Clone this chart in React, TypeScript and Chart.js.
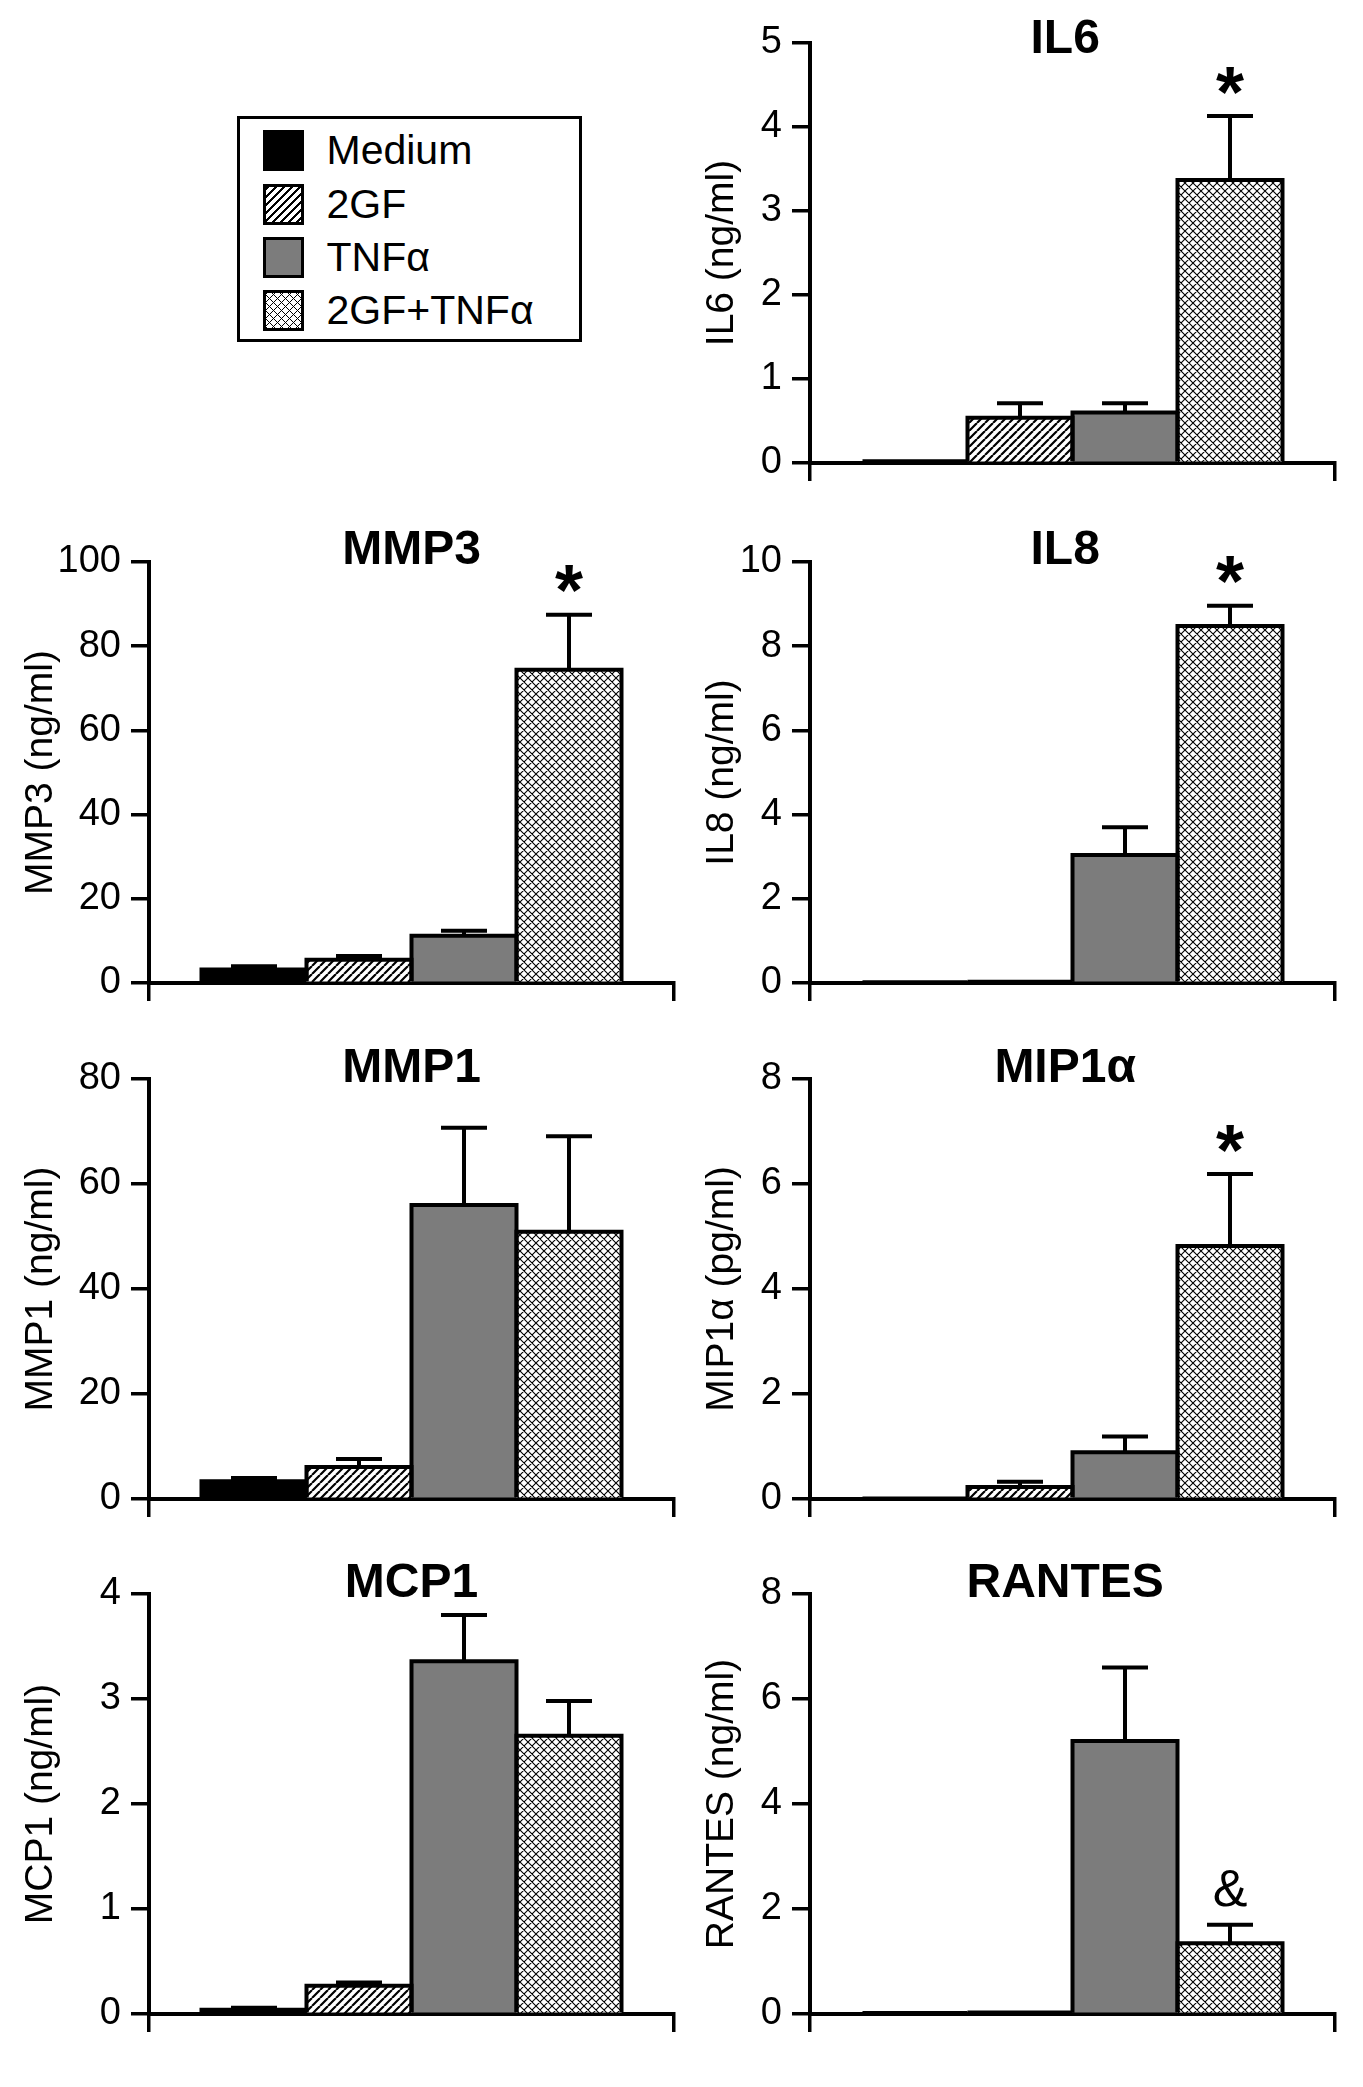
import React, { useEffect, useRef } from 'react';
import { Chart, registerables } from 'chart.js';

Chart.register(...registerables);

const FONT = "'Liberation Sans', Arial, Helvetica, sans-serif";

// treatment groups, drawn at x = 1..4 on a 0..5 axis
const groups = ['Medium', '2GF', 'TNFα', '2GF+TNFα'];
const groupX = [1, 2, 3, 4];

// means and upper SEM
const il6Mean = [0.02, 0.54, 0.6, 3.37];
const il6Sem = [0, 0.17, 0.11, 0.76];
const mmp3Mean = [3.2, 5.5, 11.2, 74.4];
const mmp3Sem = [0.8, 0.9, 1.2, 13.1];
const il8Mean = [0.02, 0.03, 3.04, 8.48];
const il8Sem = [0, 0, 0.66, 0.48];
const mmp1Mean = [3.4, 6.1, 56, 50.9];
const mmp1Sem = [0.6, 1.5, 14.7, 18.2];
const mip1aMean = [0.01, 0.23, 0.89, 4.82];
const mip1aSem = [0, 0.1, 0.3, 1.37];
const mcp1Mean = [0.04, 0.27, 3.36, 2.65];
const mcp1Sem = [0.02, 0.03, 0.44, 0.33];
const rantesMean = [0.02, 0.03, 5.2, 1.35];
const rantesSem = [0, 0, 1.4, 0.35];

// significance marks per group ('' = none)
const il6Marks = ['', '', '', '*'];
const mmp3Marks = ['', '', '', '*'];
const il8Marks = ['', '', '', '*'];
const noMarks = ['', '', '', ''];
const mip1aMarks = ['', '', '', '*'];
const rantesMarks = ['', '', '', '&'];

function tile(size: number, lw: number, cross: boolean) {
    const c = document.createElement('canvas');
    c.width = size;
    c.height = size;
    const g = c.getContext('2d')!;
    g.fillStyle = '#fff';
    g.fillRect(0, 0, size, size);
    g.strokeStyle = '#000';
    g.lineWidth = lw;
    g.beginPath();
    for (const o of [-size, 0, size]) {
        g.moveTo(o, size);
        g.lineTo(o + size, 0);
        if (cross) {
            g.moveTo(o, 0);
            g.lineTo(o + size, size);
        }
    }
    g.stroke();
    return g.createPattern(c, 'repeat')!;
}

function makeFills() {
    return ['#000', tile(8, 2.2, false), '#7c7c7c', tile(8, 1.1, true)];
}

interface PanelProps {
    title: string;
    axisTitle: string;
    mean: number[];
    sem: number[];
    marks: string[];
    max: number;
    step: number;
    col: number;
    row: number;
}

const rowTop = [43, 562, 1079, 1594];
const rowBottom = [463, 983, 1499, 2014];
const titleDy = [-3, -11, -10, -10];
const colLeft = [0, 681];
const colWidth = [681, 682];
const axisWidth = [149, 129];
const padRight = [7, 28];
const titleAt = [2.5, 2.43];
const PAD_TOP = 60;
const X_H = 40;

const Panel: React.FC<PanelProps> = (p) => {
    const ref = useRef<HTMLCanvasElement | null>(null);
    const w = colWidth[p.col];
    const h = rowBottom[p.row] - rowTop[p.row] + PAD_TOP + X_H;

    useEffect(() => {
        if (!ref.current) return;
        const fills = makeFills();

        const overlay = {
            id: 'overlay',
            afterDatasetsDraw(chart: any) {
                const ctx = chart.ctx as CanvasRenderingContext2D;
                const xs = chart.scales.x;
                const ys = chart.scales.y;
                const meta = chart.getDatasetMeta(0);
                ctx.save();
                ctx.strokeStyle = '#000';
                ctx.fillStyle = '#000';
                ctx.lineWidth = 4;
                ctx.lineJoin = 'miter';
                ctx.lineCap = 'butt';
                meta.data.forEach((bar: any, i: number) => {
                    const half = bar.width / 2;
                    // outline
                    ctx.beginPath();
                    ctx.moveTo(bar.x - half, bar.base);
                    ctx.lineTo(bar.x - half, bar.y);
                    ctx.lineTo(bar.x + half, bar.y);
                    ctx.lineTo(bar.x + half, bar.base);
                    ctx.stroke();
                    // error bar
                    const top = ys.getPixelForValue(p.mean[i] + p.sem[i]);
                    if (p.sem[i] > 0) {
                        ctx.beginPath();
                        ctx.moveTo(bar.x, bar.y);
                        ctx.lineTo(bar.x, top);
                        ctx.moveTo(bar.x - 23, top);
                        ctx.lineTo(bar.x + 23, top);
                        ctx.stroke();
                    }
                    const m = p.marks[i];
                    if (m) {
                        ctx.font = m === '*' ? `bold 72px ${FONT}` : `52px ${FONT}`;
                        ctx.textAlign = 'center';
                        ctx.textBaseline = 'alphabetic';
                        const tm = ctx.measureText(m);
                        const cy = top - 36;
                        ctx.fillText(m, bar.x, cy + (tm.actualBoundingBoxAscent - tm.actualBoundingBoxDescent) / 2);
                    }
                });
                ctx.font = `bold 48px ${FONT}`;
                ctx.textAlign = 'center';
                ctx.textBaseline = 'middle';
                ctx.fillText(p.title, xs.getPixelForValue(titleAt[p.col]), chart.chartArea.top + titleDy[p.row]);
                ctx.restore();
            },
        };

        const chart = new Chart(ref.current, {
            type: 'bar',
            data: {
                datasets: [{
                    label: p.title,
                    data: groupX.map((x, i) => ({ x, y: p.mean[i] })),
                    backgroundColor: fills as any,
                    borderWidth: 0,
                    barPercentage: 1,
                    categoryPercentage: 1,
                }],
            },
            options: {
                animation: false,
                responsive: false,
                devicePixelRatio: 1,
                layout: { padding: { top: PAD_TOP, right: padRight[p.col], bottom: 0, left: 0 } },
                plugins: { legend: { display: false }, tooltip: { enabled: false } },
                scales: {
                    x: {
                        type: 'linear',
                        min: 0,
                        max: 5,
                        offset: false,
                        ticks: { stepSize: 5, display: false },
                        grid: { offset: false, drawOnChartArea: false, drawTicks: true, tickLength: 18, color: '#000', lineWidth: 3.5 },
                        border: { display: true, color: '#000', width: 4 },
                        afterFit: (s: any) => { s.height = X_H; },
                    },
                    y: {
                        min: 0,
                        max: p.max,
                        ticks: { stepSize: p.step, color: '#000', font: { family: FONT, size: 38 }, padding: 10 },
                        grid: { drawOnChartArea: false, drawTicks: true, tickLength: 18, color: '#000', lineWidth: 3.5 },
                        border: { display: true, color: '#000', width: 4 },
                        title: {
                            display: true,
                            text: p.axisTitle,
                            color: '#000',
                            font: { family: FONT, size: 39 },
                            padding: { top: 18, bottom: 0 },
                        },
                        afterFit: (s: any) => { s.width = axisWidth[p.col]; },
                    },
                },
            },
            plugins: [overlay],
        } as any);

        return () => chart.destroy();
    }, []);

    return (
        <canvas
            ref={ref}
            width={w}
            height={h}
            style={{ position: 'absolute', left: colLeft[p.col], top: rowTop[p.row] - PAD_TOP, width: w, height: h }}
        />
    );
};

const swatchBg = [
    '#000',
    'repeating-linear-gradient(135deg, #000 0 2.2px, #fff 2.2px 5.66px)',
    '#7c7c7c',
    'repeating-linear-gradient(45deg, #000 0 1px, transparent 1px 5.66px), repeating-linear-gradient(135deg, #000 0 1px, #fff 1px 5.66px)',
];
const swatchTop = [130, 184, 237, 290];

const Legend: React.FC = () => (
    <div style={{
        position: 'absolute', left: 237, top: 116, width: 345, height: 226,
        border: '3.5px solid #000', boxSizing: 'border-box', background: '#fff',
    }}>
        {groups.map((g, i) => (
            <React.Fragment key={g}>
                <div style={{
                    position: 'absolute', left: 263 - 237 - 3.5, top: swatchTop[i] - 116 - 3.5,
                    width: 41, height: 41, boxSizing: 'border-box', border: '3px solid #000', background: swatchBg[i],
                }} />
                <div style={{
                    position: 'absolute', left: 327 - 237 - 3.5, top: swatchTop[i] - 116 - 3.5 + 20.5 - 25,
                    height: 50, lineHeight: '50px', fontFamily: FONT, fontSize: 41, color: '#000', whiteSpace: 'nowrap',
                }}>{g}</div>
            </React.Fragment>
        ))}
    </div>
);

export default function App() {
    return (
        <div style={{ position: 'absolute', left: 0, top: 0, width: 1363, height: 2087, background: '#fff' }}>
            <Legend />
            <Panel title="IL6" axisTitle="IL6 (ng/ml)" mean={il6Mean} sem={il6Sem} marks={il6Marks} max={5} step={1} col={1} row={0} />
            <Panel title="MMP3" axisTitle="MMP3 (ng/ml)" mean={mmp3Mean} sem={mmp3Sem} marks={mmp3Marks} max={100} step={20} col={0} row={1} />
            <Panel title="IL8" axisTitle="IL8 (ng/ml)" mean={il8Mean} sem={il8Sem} marks={il8Marks} max={10} step={2} col={1} row={1} />
            <Panel title="MMP1" axisTitle="MMP1 (ng/ml)" mean={mmp1Mean} sem={mmp1Sem} marks={noMarks} max={80} step={20} col={0} row={2} />
            <Panel title="MIP1α" axisTitle="MIP1α (pg/ml)" mean={mip1aMean} sem={mip1aSem} marks={mip1aMarks} max={8} step={2} col={1} row={2} />
            <Panel title="MCP1" axisTitle="MCP1 (ng/ml)" mean={mcp1Mean} sem={mcp1Sem} marks={noMarks} max={4} step={1} col={0} row={3} />
            <Panel title="RANTES" axisTitle="RANTES (ng/ml)" mean={rantesMean} sem={rantesSem} marks={rantesMarks} max={8} step={2} col={1} row={3} />
        </div>
    );
}
